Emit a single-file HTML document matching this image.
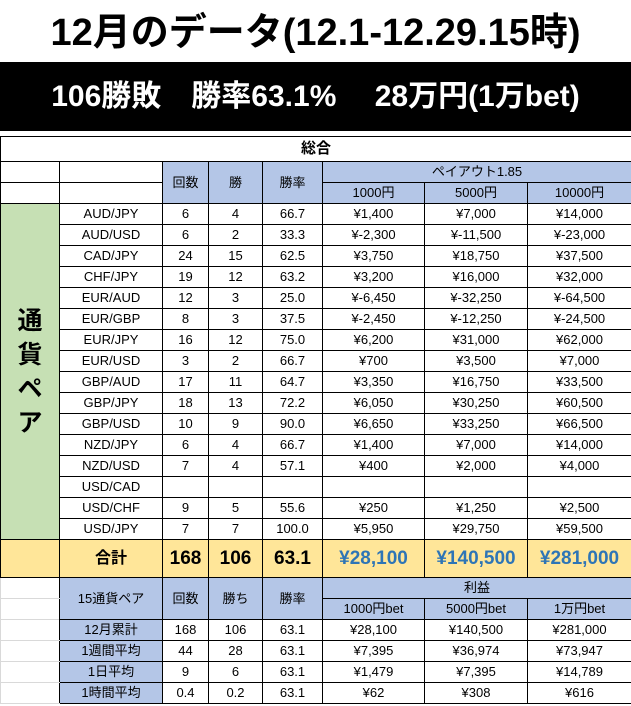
<!DOCTYPE html>
<html><head><meta charset="utf-8"><style>
body{margin:0;width:631px;height:706px;background:#fff;position:relative;overflow:hidden;font-family:"Liberation Sans","Noto Sans CJK JP",sans-serif}
.t{position:absolute;left:0;top:0;width:631px;height:62px;text-align:center;font-size:38px;font-weight:bold;line-height:66px;color:#000;white-space:nowrap}
.b{position:absolute;left:0;top:62px;width:631px;height:69px;background:#000;color:#fff;font-size:30px;font-weight:bold;line-height:70px;text-align:center;white-space:pre}
table{position:absolute;left:0;top:136px;border-collapse:collapse;table-layout:fixed;width:631px}
td{border:1px solid #000;height:20px;padding:0;text-align:center;font-size:13px;line-height:14px;overflow:hidden;white-space:nowrap;color:#000}
.h{background:#b4c6e7}
.g{background:#c6e0b4;font-size:25px;font-weight:bold;line-height:34px;white-space:normal}
.y{background:#ffe699;font-size:19px;font-weight:bold}
.yb{color:#2e75b6}
.w{border-color:#d9d9d9;border-right-color:#000}
</style></head><body>
<div class="t">12月のデータ(12.1-12.29.15時)</div>
<div class="b">106勝敗　勝率63.1%　 28万円(1万bet)</div>
<table>
<colgroup><col style="width:59px"><col style="width:103px"><col style="width:46px"><col style="width:54px"><col style="width:60px"><col style="width:102px"><col style="width:103px"><col style="width:104px"></colgroup>
<tr><td colspan="8" style="height:24px;font-size:15px;font-weight:bold">総合</td></tr>
<tr><td></td><td></td><td class="h" rowspan="2">回数</td><td class="h" rowspan="2">勝</td><td class="h" rowspan="2">勝率</td><td class="h" colspan="3">ペイアウト1.85</td></tr>
<tr><td></td><td></td><td class="h">1000円</td><td class="h">5000円</td><td class="h">10000円</td></tr>
<tr><td class="g" rowspan="16">通<br>貨<br>ペ<br>ア</td><td>AUD/JPY</td><td>6</td><td>4</td><td>66.7</td><td>¥1,400</td><td>¥7,000</td><td>¥14,000</td></tr>
<tr><td>AUD/USD</td><td>6</td><td>2</td><td>33.3</td><td>¥-2,300</td><td>¥-11,500</td><td>¥-23,000</td></tr>
<tr><td>CAD/JPY</td><td>24</td><td>15</td><td>62.5</td><td>¥3,750</td><td>¥18,750</td><td>¥37,500</td></tr>
<tr><td>CHF/JPY</td><td>19</td><td>12</td><td>63.2</td><td>¥3,200</td><td>¥16,000</td><td>¥32,000</td></tr>
<tr><td>EUR/AUD</td><td>12</td><td>3</td><td>25.0</td><td>¥-6,450</td><td>¥-32,250</td><td>¥-64,500</td></tr>
<tr><td>EUR/GBP</td><td>8</td><td>3</td><td>37.5</td><td>¥-2,450</td><td>¥-12,250</td><td>¥-24,500</td></tr>
<tr><td>EUR/JPY</td><td>16</td><td>12</td><td>75.0</td><td>¥6,200</td><td>¥31,000</td><td>¥62,000</td></tr>
<tr><td>EUR/USD</td><td>3</td><td>2</td><td>66.7</td><td>¥700</td><td>¥3,500</td><td>¥7,000</td></tr>
<tr><td>GBP/AUD</td><td>17</td><td>11</td><td>64.7</td><td>¥3,350</td><td>¥16,750</td><td>¥33,500</td></tr>
<tr><td>GBP/JPY</td><td>18</td><td>13</td><td>72.2</td><td>¥6,050</td><td>¥30,250</td><td>¥60,500</td></tr>
<tr><td>GBP/USD</td><td>10</td><td>9</td><td>90.0</td><td>¥6,650</td><td>¥33,250</td><td>¥66,500</td></tr>
<tr><td>NZD/JPY</td><td>6</td><td>4</td><td>66.7</td><td>¥1,400</td><td>¥7,000</td><td>¥14,000</td></tr>
<tr><td>NZD/USD</td><td>7</td><td>4</td><td>57.1</td><td>¥400</td><td>¥2,000</td><td>¥4,000</td></tr>
<tr><td>USD/CAD</td><td></td><td></td><td></td><td></td><td></td><td></td></tr>
<tr><td>USD/CHF</td><td>9</td><td>5</td><td>55.6</td><td>¥250</td><td>¥1,250</td><td>¥2,500</td></tr>
<tr><td>USD/JPY</td><td>7</td><td>7</td><td>100.0</td><td>¥5,950</td><td>¥29,750</td><td>¥59,500</td></tr>
<tr><td class="y" style="height:37px"></td><td class="y" style="font-size:16px">合計</td><td class="y">168</td><td class="y">106</td><td class="y">63.1</td><td class="y yb">¥28,100</td><td class="y yb">¥140,500</td><td class="y yb">¥281,000</td></tr>
<tr><td class="w"></td><td class="h" rowspan="2">15通貨ペア</td><td class="h" rowspan="2">回数</td><td class="h" rowspan="2">勝ち</td><td class="h" rowspan="2">勝率</td><td class="h" colspan="3">利益</td></tr>
<tr><td class="w"></td><td class="h">1000円bet</td><td class="h">5000円bet</td><td class="h">1万円bet</td></tr>
<tr><td class="w"></td><td class="h">12月累計</td><td>168</td><td>106</td><td>63.1</td><td>¥28,100</td><td>¥140,500</td><td>¥281,000</td></tr>
<tr><td class="w"></td><td class="h">1週間平均</td><td>44</td><td>28</td><td>63.1</td><td>¥7,395</td><td>¥36,974</td><td>¥73,947</td></tr>
<tr><td class="w"></td><td class="h">1日平均</td><td>9</td><td>6</td><td>63.1</td><td>¥1,479</td><td>¥7,395</td><td>¥14,789</td></tr>
<tr><td class="w"></td><td class="h">1時間平均</td><td>0.4</td><td>0.2</td><td>63.1</td><td>¥62</td><td>¥308</td><td>¥616</td></tr>
</table>
</body></html>
